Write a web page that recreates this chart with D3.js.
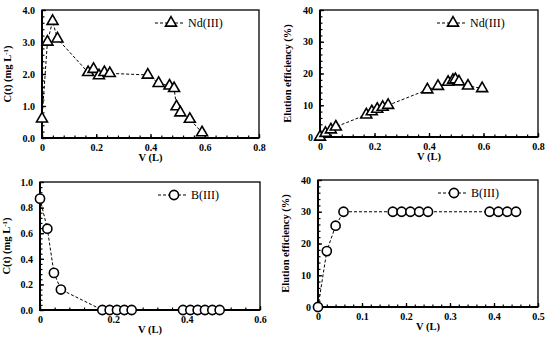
<!DOCTYPE html>
<html lang="en">
<head>
<meta charset="utf-8" />
<title>Nd(III) and B(III) elution</title>
<style>
   body { margin:0; background:white; }
   text { font-family:"Liberation Serif","Times New Roman",serif; fill:black; }
</style>
<script src="https://d3js.org/d3.v7.min.js"></script>
</head>
<body>
<svg id="main" width="550" height="340"></svg>
<script>
// Nd(III) volumes and values
var nd_v = [0,0.02,0.039,0.057,0.17,0.19,0.21,0.23,0.25,0.39,0.43,0.47,0.487,0.496,0.51,0.545,0.59];
var nd_conc = [0.6,3.0,3.65,3.1,2.05,2.15,1.95,2.05,2.02,1.97,1.71,1.63,1.55,0.98,0.79,0.59,0.17];
var nd_v2 = [0,0.02,0.04,0.058,0.17,0.19,0.21,0.23,0.25,0.394,0.433,0.47,0.488,0.497,0.51,0.543,0.595];
var nd_elu = [0,1.2,2.3,3.2,7.0,8.0,8.8,9.4,10.0,14.9,16.0,17.3,17.9,18.1,17.4,16.1,15.3];
// B(III)
var b_v = [0,0.02,0.038,0.057,0.17,0.19,0.21,0.23,0.25,0.39,0.41,0.43,0.45,0.47,0.49];
var b_conc = [0.87,0.635,0.29,0.16,0,0,0,0,0,0,0,0,0,0,0];
var b_v2 = [0,0.02,0.04,0.058,0.17,0.19,0.21,0.23,0.25,0.39,0.41,0.43,0.45];
var b_elu = [0,17.6,25.6,30,30,30,30,30,30,30,30,30,30];
// axis ticks
var x_ticks_08 = [0,0.2,0.4,0.6,0.8];
var x_ticks_06 = [0,0.2,0.4,0.6];
var x_ticks_05 = [0,0.1,0.2,0.3,0.4,0.5];
var y_ticks_conc_nd = [0,1,2,3,4];
var y_ticks_conc_b = [0,0.2,0.4,0.6,0.8,1.0];
var y_ticks_elu = [0,10,20,30,40];

var svg = d3.select('#main');
var serif = '"Liberation Serif","Times New Roman",serif';

function fpanel(p) {
   var g = svg.append('g');
   var x = d3.scaleLinear().domain([p.xt[0],p.xt[p.xt.length-1]]).range([p.l,p.r]);
   var y = d3.scaleLinear().domain([p.yt[0],p.yt[p.yt.length-1]]).range([p.b,p.t]);

   //minor ticks (5 per major), inward
   var xmin = d3.range(0,(p.xt.length-1)*5+1).map(i=>p.xt[0]+i*(p.xt[1]-p.xt[0])/5);
   var ymin = d3.range(0,(p.yt.length-1)*5+1).map(i=>p.yt[0]+i*(p.yt[1]-p.yt[0])/5);
   var xax = d3.axisBottom(x).tickValues(xmin).tickSize(-2.5).tickFormat('');
   var yax = d3.axisLeft(y).tickValues(ymin).tickSize(-2.5).tickFormat('');
   g.append('g').attr('transform','translate(0,'+p.b+')').call(xax)
      .call(s=>s.select('.domain').remove()).selectAll('line').attr('stroke-width',1.2);
   g.append('g').attr('transform','translate('+p.l+',0)').call(yax)
      .call(s=>s.select('.domain').remove()).selectAll('line').attr('stroke-width',1.2);
   //major ticks with labels
   var xaxM = d3.axisBottom(x).tickValues(p.xt).tickSize(-4).tickPadding(6).tickFormat(p.xf);
   var yaxM = d3.axisLeft(y).tickValues(p.yt).tickSize(-4).tickPadding(7).tickFormat(p.yf);
   var gx = g.append('g').attr('transform','translate(0,'+p.b+')').call(xaxM);
   var gy = g.append('g').attr('transform','translate('+p.l+',0)').call(yaxM);
   [gx,gy].forEach(function(a) {
      a.attr('font-family',serif).attr('font-size',10).attr('font-weight','bold');
      a.select('.domain').remove();
      a.selectAll('line').attr('stroke-width',1.3);
   });

   //frame
   g.append('rect').attr('x',p.l).attr('y',p.t).attr('width',p.r-p.l).attr('height',p.b-p.t)
      .attr('fill','none').attr('stroke','black').attr('stroke-width',1.3);
   g.append('line').attr('x1',p.l).attr('x2',p.l).attr('y1',p.t).attr('y2',p.b+1)
      .attr('stroke','black').attr('stroke-width',2);
   g.append('line').attr('x1',p.l-1).attr('x2',p.r).attr('y1',p.b).attr('y2',p.b)
      .attr('stroke','black').attr('stroke-width',2);

   //axis titles
   g.append('text').attr('text-anchor','middle').attr('font-size',10.5).attr('font-weight','bold')
      .attr('x',(p.l+p.r)/2).attr('y',p.b+23).text('V (L)');
   var yt = g.append('text').attr('text-anchor','middle').attr('font-size',10.5).attr('font-weight','bold')
      .attr('transform','translate('+p.ytx+','+((p.t+p.b)/2)+') rotate(-90)');
   if (p.conc) {
      yt.append('tspan').text('C(t) (mg L');
      yt.append('tspan').attr('dy',-3).attr('font-size',7).text('-1');
      yt.append('tspan').attr('dy',3).text(')');
   } else { yt.text('Elution efficiency (%)'); }

   //data line and markers
   var pts = p.xs.map((v,i)=>[x(v),y(p.ys[i])]);
   g.append('path').attr('d',d3.line()(pts)).attr('fill','none')
      .attr('stroke','black').attr('stroke-width',1).attr('stroke-dasharray','3,2');
   var sym = p.tri ? d3.symbol().type(d3.symbolTriangle).size(52) : d3.symbol().type(d3.symbolCircle).size(66);
   g.selectAll('.mk').data(pts).enter().append('path').attr('class','mk')
      .attr('transform',d=>'translate('+d[0]+','+d[1]+')').attr('d',sym())
      .attr('fill','white').attr('stroke','black').attr('stroke-width',1.6);

   //legend
   g.append('line').attr('x1',p.lg[0]).attr('x2',p.lg[0]+30).attr('y1',p.lg[1]).attr('y2',p.lg[1])
      .attr('stroke','black').attr('stroke-width',1).attr('stroke-dasharray','3,2');
   g.append('path').attr('transform','translate('+(p.lg[0]+16)+','+p.lg[1]+')').attr('d',sym())
      .attr('fill','white').attr('stroke','black').attr('stroke-width',1.6);
   g.append('text').attr('font-size',12).attr('x',p.lg[0]+33).attr('y',p.lg[1]+4).text(p.name);
}

var f1 = d3.format('.1f');
var fx = d=>d===0?'0':d3.format('.1f')(d);

fpanel({l:42,r:259,t:10,b:138,xt:x_ticks_08,yt:y_ticks_conc_nd,xf:fx,yf:f1,conc:true,ytx:11,
   xs:nd_v,ys:nd_conc,tri:true,lg:[155,23],name:'Nd(III)'});
fpanel({l:320,r:538,t:10,b:137,xt:x_ticks_08,yt:y_ticks_elu,xf:fx,yf:d3.format('d'),conc:false,ytx:291,
   xs:nd_v2,ys:nd_elu,tri:true,lg:[437,23],name:'Nd(III)'});
fpanel({l:40,r:260,t:182,b:310,xt:x_ticks_06,yt:y_ticks_conc_b,xf:fx,yf:f1,conc:true,ytx:10,
   xs:b_v,ys:b_conc,tri:false,lg:[158,195],name:'B(III)'});
fpanel({l:318,r:538,t:180,b:307,xt:x_ticks_05,yt:y_ticks_elu,xf:fx,yf:d3.format('d'),conc:false,ytx:289,
   xs:b_v2,ys:b_elu,tri:false,lg:[438,193],name:'B(III)'});
</script>
</body>
</html>
